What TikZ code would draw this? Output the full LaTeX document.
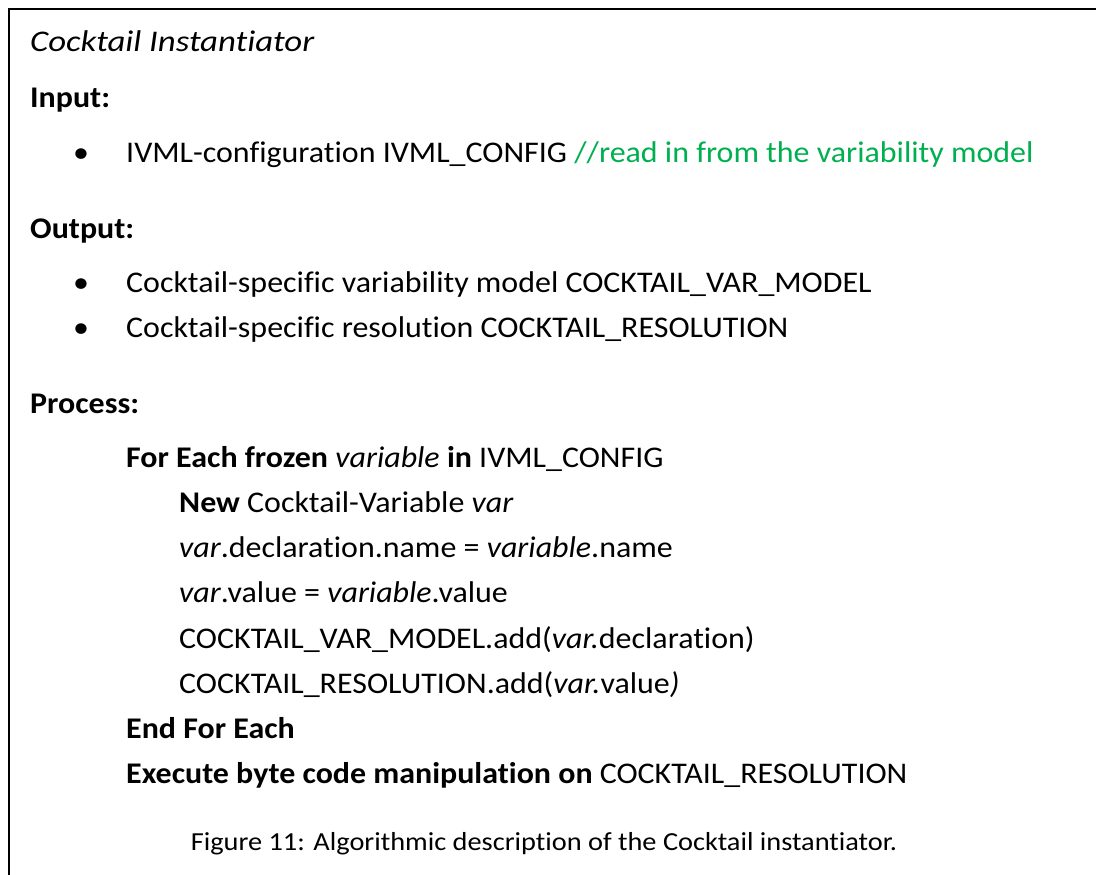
\documentclass[tikz,border=0pt]{standalone}
\usepackage{fontspec}
\setmainfont{Carlito}[Ligatures=NoCommon,FakeStretch=1.065]
\newfontfamily\titlefont{Carlito}[Ligatures=NoCommon,FakeStretch=1.16]
\newfontfamily\captionfont{Carlito}[Ligatures=NoCommon,FakeStretch=1.09]
\definecolor{cmtgreen}{RGB}{0,176,80}
\begin{document}
\begin{tikzpicture}[x=1pt,y=-1pt,
  txt/.style={anchor=base west,inner sep=0pt,font=\fontsize{30}{36}\selectfont},
  captxt/.style={anchor=base,inner sep=0pt,font=\captionfont\fontsize{26}{30}\selectfont},
  frame/.style={line width=1.6pt,black}]
\useasboundingbox (0,0) rectangle (1096,875);
% open frame: top and left edges
\draw[frame] (9,875) -- (9,9) -- (1097,9);

\node[txt,font=\titlefont\fontsize{30}{36}\selectfont] (title) at (30,52) {\itshape Cocktail Instantiator};
\node[txt] (inhead) at (30,107) {\bfseries Input:};
\node[txt] (inb) at (73,162) {\textbullet};
\node[txt] (in1) at (126,162) {IVML-configuration IVML\_CONFIG \textcolor{cmtgreen}{//read in from the variability model}};

\node[txt] (outhead) at (30,238) {\bfseries Output:};
\node[txt] (outb1) at (73,292) {\textbullet};
\node[txt] (out1) at (126,292) {Cocktail-specific variability model COCKTAIL\_VAR\_MODEL};
\node[txt] (outb2) at (73,337) {\textbullet};
\node[txt] (out2) at (126,337) {Cocktail-specific resolution COCKTAIL\_RESOLUTION};

\node[txt] (prochead) at (30,413) {\bfseries Process:};
\node[txt] (p1) at (126,467) {\textbf{For Each frozen} \textit{variable} \textbf{in} IVML\_CONFIG};
\node[txt] (p2) at (179,512) {\textbf{New} Cocktail-Variable \textit{var}};
\node[txt] (p3) at (179,557) {\textit{var}.declaration.name = \textit{variable}.name};
\node[txt] (p4) at (179,602) {\textit{var}.value = \textit{variable}.value};
\node[txt] (p5) at (179,648) {COCKTAIL\_VAR\_MODEL.add(\textit{var.}declaration)};
\node[txt] (p6) at (179,693) {COCKTAIL\_RESOLUTION.add(\textit{var.}value\textit{)}};
\node[txt] (p7) at (126,738) {\bfseries End For Each};
\node[txt] (p8) at (126,783) {\textbf{Execute byte code manipulation on} COCKTAIL\_RESOLUTION};

\node[captxt] (caption) at (544,850) {Figure 11: Algorithmic description of the Cocktail instantiator.};
\end{tikzpicture}
\end{document}
